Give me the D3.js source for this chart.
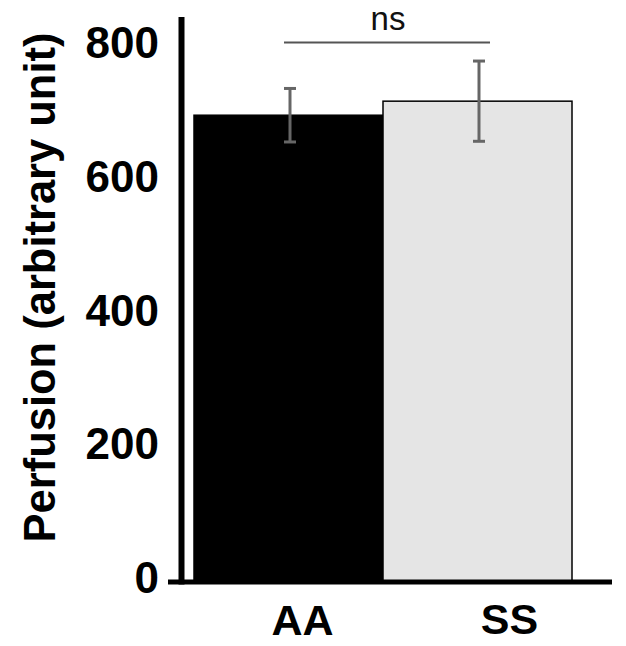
<!DOCTYPE html>
<html><head><meta charset="utf-8">
<script src="https://cdn.jsdelivr.net/npm/d3@7"></script>
<style>body{margin:0;background:#fff}svg{display:block}text{font-family:"Liberation Sans",Arial,sans-serif}</style>
</head><body>
<svg id="c" width="626" height="646"></svg>
<script>
const categories = ["AA", "SS"];
const means = [698, 719];
const errors = [40, 60];
const barFills = ["#000000", "#e5e5e5"];
const yTicks = [0, 200, 400, 600, 800];
const yTitle = "Perfusion (arbitrary unit)";
const sigLabel = "ns";

const svg = d3.select("#c");
const y = d3.scaleLinear().domain([0, 800]).range([582, 47]);
const x = d3.scaleBand().domain(categories).range([194, 572]).padding(0);

// bars
svg.selectAll("rect.bar").data(categories).enter().append("rect")
  .attr("x", d => x(d)).attr("width", x.bandwidth())
  .attr("y", (d, i) => y(means[i])).attr("height", (d, i) => y(0) - y(means[i]))
  .attr("fill", (d, i) => barFills[i])
  .attr("stroke", "#000").attr("stroke-width", 1.5);

// error bars
const eb = svg.append("g").attr("stroke", "#666").attr("stroke-width", 3);
categories.forEach((c, i) => {
  const cx = x(c) + x.bandwidth() / 2 + 1.5;
  eb.append("line").attr("x1", cx).attr("x2", cx).attr("y1", y(means[i] + errors[i])).attr("y2", y(means[i] - errors[i]));
  [means[i] + errors[i], means[i] - errors[i]].forEach(v => {
    eb.append("line").attr("x1", cx - 6).attr("x2", cx + 6).attr("y1", y(v)).attr("y2", y(v));
  });
});

// axes
svg.append("line").attr("x1", 181.5).attr("x2", 181.5).attr("y1", 17).attr("y2", y(0) + 2.5)
  .attr("stroke", "#000").attr("stroke-width", 6);
svg.append("line").attr("x1", 168).attr("x2", 612).attr("y1", y(0)).attr("y2", y(0))
  .attr("stroke", "#000").attr("stroke-width", 5);

// y tick labels
svg.selectAll("text.yt").data(yTicks).enter().append("text")
  .attr("x", 159).attr("y", d => y(d) + 11).attr("text-anchor", "end")
  .attr("font-size", 44).attr("font-weight", "bold").text(d => d);

// x labels
const xLabelShift = [14, 32];
const xLabelBase = [635, 634];
svg.selectAll("text.xl").data(categories).enter().append("text")
  .attr("x", (d, i) => x(d) + x.bandwidth() / 2 + xLabelShift[i]).attr("y", (d, i) => xLabelBase[i])
  .attr("text-anchor", "middle").attr("font-size", 43).attr("font-weight", "bold").text(d => d);

// y title
svg.append("text").attr("transform", "translate(55,287.5) rotate(-90)")
  .attr("text-anchor", "middle").attr("font-size", 43.5).attr("font-weight", "bold").text(yTitle);

// significance
svg.append("line").attr("x1", 284).attr("x2", 490).attr("y1", 42.5).attr("y2", 42.5)
  .attr("stroke", "#555").attr("stroke-width", 2);
svg.append("text").attr("x", 388).attr("y", 30).attr("text-anchor", "middle")
  .attr("font-size", 33).attr("fill", "#111").text(sigLabel);
</script>
</body></html>
